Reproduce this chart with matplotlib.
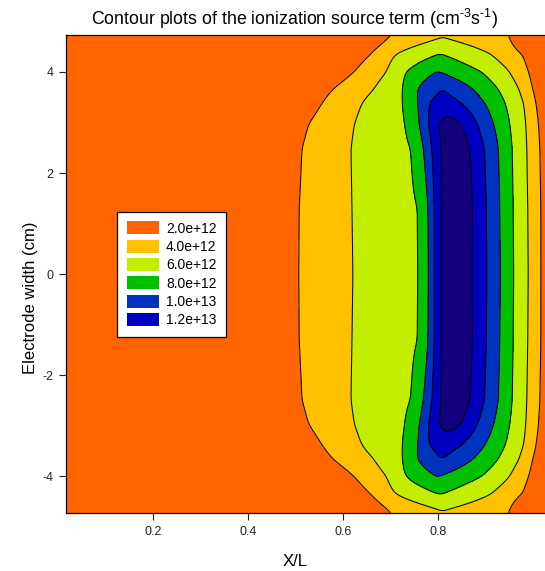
"""
Filled contour plot of the ionization source term (read off the reference picture).
"""

import matplotlib
matplotlib.use("Agg")
import matplotlib.pyplot as plt
import numpy as np
from matplotlib.patches import Patch

plt.rcParams["font.family"] = ["Liberation Sans", "DejaVu Sans"]
plt.rcParams["axes.unicode_minus"] = False
plt.rcParams["mathtext.fontset"] = "custom"
plt.rcParams["mathtext.rm"] = "Liberation Sans"

# contour levels (units of 1e12 cm^-3 s^-1) and the fill colours between them
levels = [0, 4, 6, 8, 10, 12, 14, 20]
fill_colors = ["#ff6400", "#ffc000", "#c4ee00", "#00c000", "#0033c0", "#0000c0", "#14007f"]
legend_labels = ["2.0e+12", "4.0e+12", "6.0e+12", "8.0e+12", "1.0e+13", "1.2e+13"]

# profiles across X/L at several |y| (cm); the field is mirrored about y = 0
row_y = [0.0, 1.3, 2.5, 2.98, 3.38, 3.66, 4.0, 4.35, 4.73]
row_x = [
    [0.426, 0.506, 0.620, 0.760, 0.780, 0.791, 0.804, 0.838, 0.871, 0.902, 0.930, 0.958, 0.989, 1.015, 1.045],
    [0.427, 0.507, 0.618, 0.759, 0.779, 0.791, 0.804, 0.838, 0.872, 0.901, 0.929, 0.957, 0.988, 1.015, 1.045],
    [0.433, 0.513, 0.616, 0.744, 0.769, 0.786, 0.804, 0.835, 0.867, 0.897, 0.926, 0.955, 0.986, 1.013, 1.043],
    [0.447, 0.527, 0.623, 0.731, 0.760, 0.779, 0.797, 0.823, 0.849, 0.882, 0.916, 0.950, 0.984, 1.010, 1.040],
    [0.475, 0.555, 0.638, 0.726, 0.757, 0.779, 0.812, 0.848, 0.898, 0.941, 0.980, 1.005, 1.035],
    [0.497, 0.577, 0.664, 0.725, 0.754, 0.807, 0.874, 0.926, 0.970, 0.998, 1.028],
    [0.545, 0.623, 0.691, 0.730, 0.796, 0.891, 0.950, 0.990, 1.020],
    [0.586, 0.656, 0.709, 0.804, 0.910, 0.978, 1.008],
    [0.645, 0.705, 0.810, 0.947, 0.977],
]
row_v = [
    [2, 4, 6, 8, 10, 12, 14, 16.0, 14, 12, 10, 8, 6, 4, 2],
    [2, 4, 6, 8, 10, 12, 14, 16.0, 14, 12, 10, 8, 6, 4, 2],
    [2, 4, 6, 8, 10, 12, 14, 15.6, 14, 12, 10, 8, 6, 4, 2],
    [2, 4, 6, 8, 10, 12, 14, 14.7, 14, 12, 10, 8, 6, 4, 2],
    [2, 4, 6, 8, 10, 12, 13, 12, 10, 8, 6, 4, 2],
    [2, 4, 6, 8, 10, 12.1, 10, 8, 6, 4, 2],
    [2, 4, 6, 8, 10.1, 8, 6, 4, 2],
    [2, 4, 6, 8.1, 6, 4, 2],
    [2, 4, 5.6, 4, 2],
]

x_ticks = [0.2, 0.4, 0.6, 0.8]
y_ticks = [-4, -2, 0, 2, 4]


def smooth(z, nx, ny):
    # separable gaussian blur, edges padded
    def kern(n):
        t = np.arange(-3 * n, 3 * n + 1)
        k = np.exp(-0.5 * (t / n) ** 2)
        return k / k.sum()
    kx, ky = kern(nx), kern(ny)
    zp = np.pad(z, ((0, 0), (3 * nx, 3 * nx)), mode="edge")
    z = np.array([np.convolve(r, kx, mode="valid") for r in zp])
    zp = np.pad(z, ((3 * ny, 3 * ny), (0, 0)), mode="edge")
    z = np.array([np.convolve(c, ky, mode="valid") for c in zp.T]).T
    return z


def build_field(xf, yf):
    rows = np.array([np.interp(xf, rx, rv) for rx, rv in zip(row_x, row_v)])
    ay = np.abs(yf)
    z = np.empty((len(yf), len(xf)))
    for j in range(len(xf)):
        z[:, j] = np.interp(ay, row_y, rows[:, j])
    return smooth(z, 3, 5)


xf = np.linspace(0.0, 1.05, 700)
yf = np.linspace(-4.75, 4.75, 500)
Z = build_field(xf, yf)

W, H = 545, 571
fig = plt.figure(figsize=(W / 100, H / 100), dpi=100)
ax = fig.add_axes([65.7 / W, (H - 513.3) / H, (W - 65.7) / W, (513.3 - 35) / H])

ax.contourf(xf, yf, Z, levels=levels, colors=fill_colors)
ax.contour(xf, yf, Z, levels=levels[1:-1], colors="black", linewidths=0.75)

ax.set_xlim(0.017, 1.024)
ax.set_ylim(-4.73, 4.73)
ax.set_xticks(x_ticks)
ax.set_xticklabels([f"{t:.1f}" for t in x_ticks])
ax.set_yticks(y_ticks)
ax.tick_params(direction="out", length=5, width=0.8, labelsize=9, pad=4, colors="#222222")
ax.spines["right"].set_visible(False)
for s in ("left", "top", "bottom"):
    ax.spines[s].set_linewidth(0.9)

xc = (295 - 65.7) / (W - 65.7)
ax.set_title(r"Contour plots of the ionization source term (cm$^{\text{-3}}$s$^{\text{-1}}$)",
             fontsize=12.8, x=xc, pad=7)
ax.set_xlabel("X/L", fontsize=12)
ax.xaxis.set_label_coords(xc, -0.085)
ax.set_ylabel("Electrode width (cm)", fontsize=12)
ax.yaxis.set_label_coords(-0.058, 0.45)

handles = [Patch(facecolor=c, edgecolor="none") for c in fill_colors[:6]]
leg = ax.legend(handles, legend_labels, loc="upper left", bbox_to_anchor=(0.1077, 0.6306),
                borderaxespad=0, fontsize=10, frameon=True, fancybox=False,
                handlelength=2.3, handleheight=1.05, handletextpad=0.5,
                labelspacing=0.3, borderpad=0.7)
leg.get_frame().set_edgecolor("black")
leg.get_frame().set_linewidth(0.9)
leg.get_frame().set_alpha(1)

fig.savefig("out.png", dpi=100)
